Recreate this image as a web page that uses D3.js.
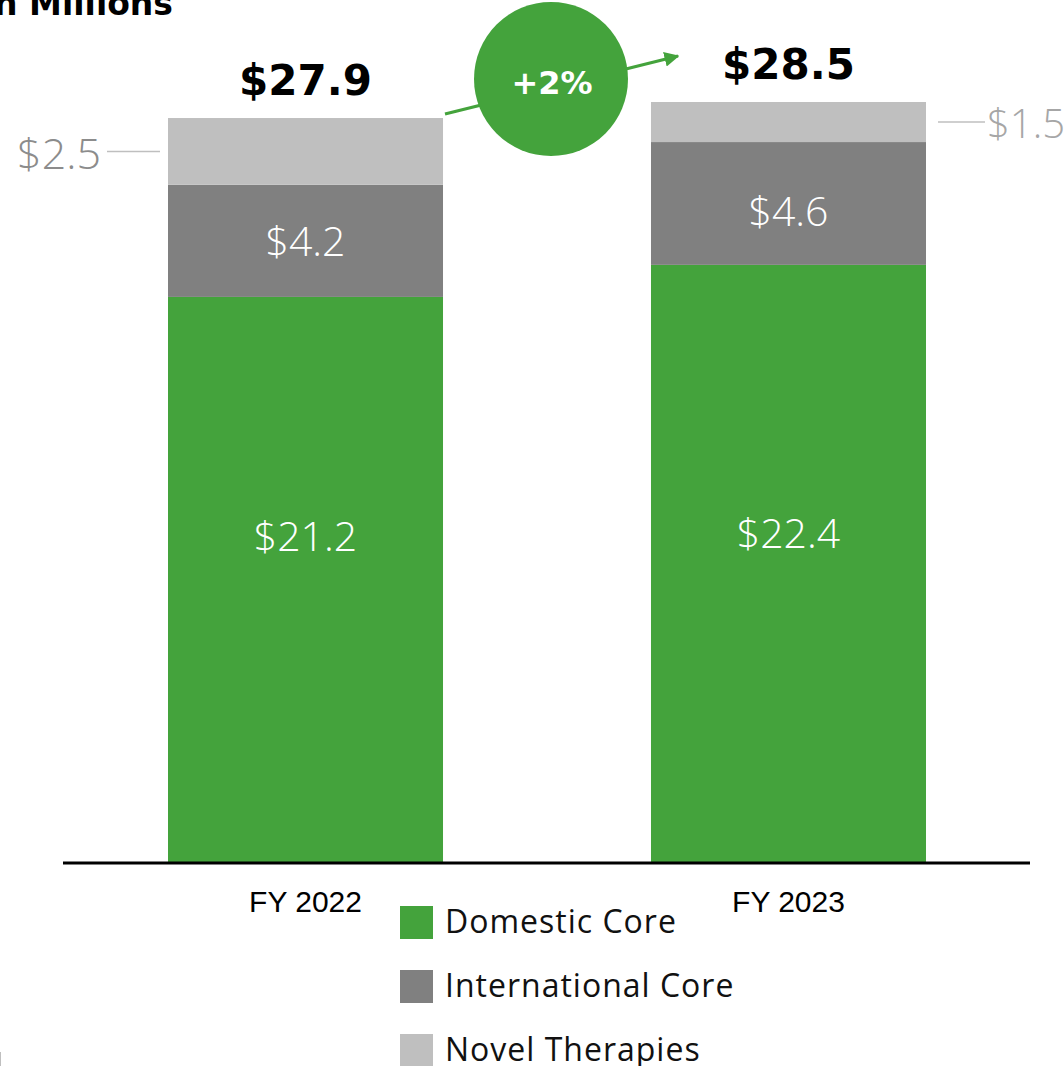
<!DOCTYPE html>
<html>
<head>
<meta charset="utf-8">
<script src="https://cdn.jsdelivr.net/npm/d3@7"></script>
<style>
  body { margin: 0; background: #fff; }
  svg { display: block; }
</style>
</head>
<body>
<div id="chart"></div>
<script>
let years = ['FY 2022', 'FY 2023']
let series = ['Domestic Core', 'International Core', 'Novel Therapies']
let domestic = [21.2, 22.4]
let international = [4.2, 4.6]
let novel = [2.5, 1.5]
let totals = [27.9, 28.5]
let growthLabel = '+2%'
let unitLabel = '$ in Millions'

let colors = ['#44a33c', '#808080', '#bfbfbf']
let valueFont = "'Open Sans', sans-serif"
let boldFont = "'DejaVu Sans', sans-serif"

let width = 1064
let height = 1066

let svg = d3
  .select('#chart')
  .append('svg')
  .attr('width', width)
  .attr('height', height)

let rows = years.map((y, i) => ({
  year: y,
  'Domestic Core': domestic[i],
  'International Core': international[i],
  'Novel Therapies': novel[i]
}))
let stacked = d3.stack().keys(series)(rows)

let xPositionScale = d3
  .scaleBand()
  .domain(years)
  .range([63, 1031])
  .paddingInner(0.4306)
  .paddingOuter(0.2174)

let yPositionScale = d3.scaleLinear().domain([0, 28.5]).range([863, 102])

// bars
svg
  .selectAll('.layer')
  .data(stacked)
  .enter()
  .append('g')
  .attr('class', 'layer')
  .attr('fill', (d, i) => colors[i])
  .selectAll('rect')
  .data(d => d)
  .enter()
  .append('rect')
  .attr('x', d => xPositionScale(d.data.year))
  .attr('width', xPositionScale.bandwidth())
  .attr('y', d => yPositionScale(d[1]))
  .attr('height', d => yPositionScale(d[0]) - yPositionScale(d[1]))

// white labels inside domestic and international segments
let labelShift = [[-44, -31], [0, 8]]
stacked.slice(0, 2).forEach((layer, li) => {
  svg
    .selectAll(null)
    .data(layer)
    .enter()
    .append('text')
    .attr('x', d => xPositionScale(d.data.year) + xPositionScale.bandwidth() / 2)
    .attr('y', (d, i) => (yPositionScale(d[0]) + yPositionScale(d[1])) / 2 + labelShift[li][i])
    .attr('dy', '0.36em')
    .attr('text-anchor', 'middle')
    .attr('fill', '#fff')
    .attr('font-family', valueFont)
    .attr('font-weight', 300)
    .attr('font-size', 41)
    .text(d => '$' + (d[1] - d[0]).toFixed(1))
})

// novel therapies callouts outside the bars
let novelLayer = stacked[2]
novelLayer.forEach((d, i) => {
  let yMid = (yPositionScale(d[0]) + yPositionScale(d[1])) / 2
  let left = i === 0
  let x0 = xPositionScale(d.data.year)
  let x1 = x0 + xPositionScale.bandwidth()
  let lineStart = left ? x0 - 8 : x1 + 12
  let lineEnd = left ? x0 - 61 : x1 + 59
  svg
    .append('line')
    .attr('x1', lineStart)
    .attr('x2', lineEnd)
    .attr('y1', yMid)
    .attr('y2', yMid)
    .attr('stroke', '#bfbfbf')
    .attr('stroke-width', 1.5)
  svg
    .append('text')
    .attr('x', left ? lineEnd - 6 : lineEnd + 2)
    .attr('y', yMid + 2)
    .attr('dy', '0.36em')
    .attr('text-anchor', left ? 'end' : 'start')
    .attr('fill', left ? '#8c8c8c' : '#a6a6a6')
    .attr('font-family', valueFont)
    .attr('font-weight', 300)
    .attr('font-size', left ? 43 : 40)
    .text('$' + novel[i].toFixed(1))
})

// totals above the bars
svg
  .selectAll('.total')
  .data(totals)
  .enter()
  .append('text')
  .attr('class', 'total')
  .attr('x', (d, i) => xPositionScale(years[i]) + xPositionScale.bandwidth() / 2)
  .attr('y', d => yPositionScale(d) - 23)
  .attr('text-anchor', 'middle')
  .attr('fill', '#000')
  .attr('font-family', boldFont)
  .attr('font-weight', 'bold')
  .attr('font-size', 42)
  .text(d => '$' + d.toFixed(1))

// growth arrow and bubble
svg
  .append('defs')
  .append('marker')
  .attr('id', 'arrow')
  .attr('viewBox', '0 0 10 10')
  .attr('refX', 9)
  .attr('refY', 5)
  .attr('markerWidth', 5)
  .attr('markerHeight', 5)
  .attr('orient', 'auto')
  .append('path')
  .attr('d', 'M0,0 L10,5 L0,10 Z')
  .attr('fill', colors[0])

let bar1Right = xPositionScale(years[0]) + xPositionScale.bandwidth()
svg
  .append('line')
  .attr('x1', bar1Right + 2)
  .attr('y1', yPositionScale(totals[0]) - 4)
  .attr('x2', xPositionScale(years[1]) + 27)
  .attr('y2', yPositionScale(totals[1]) - 46)
  .attr('stroke', colors[0])
  .attr('stroke-width', 3)
  .attr('marker-end', 'url(#arrow)')

svg
  .append('circle')
  .attr('cx', 551)
  .attr('cy', 79)
  .attr('r', 77)
  .attr('fill', colors[0])

svg
  .append('text')
  .attr('x', 552)
  .attr('y', 82)
  .attr('dy', '0.36em')
  .attr('text-anchor', 'middle')
  .attr('fill', '#fff')
  .attr('font-family', boldFont)
  .attr('font-weight', 'bold')
  .attr('font-size', 32)
  .text(growthLabel)

// baseline and axis labels
let xAxis = d3.axisBottom(xPositionScale).tickSize(0).tickPadding(28)
let axisG = svg
  .append('g')
  .attr('class', 'axis x-axis')
  .attr('transform', 'translate(0,' + yPositionScale(0) + ')')
  .call(xAxis)
axisG
  .select('.domain')
  .attr('stroke', '#000')
  .attr('stroke-width', 3)
  .attr('d', 'M63,0H1030')
axisG
  .selectAll('text')
  .attr('fill', '#000')
  .attr('font-family', "'Liberation Sans Narrow', 'Liberation Sans', sans-serif")
  .attr('font-size', 30)

// legend
let legend = svg
  .selectAll('.legend')
  .data(series)
  .enter()
  .append('g')
  .attr('class', 'legend')
  .attr('transform', (d, i) => 'translate(400,' + (906 + i * 64) + ')')
legend
  .append('rect')
  .attr('width', 33)
  .attr('height', 33)
  .attr('fill', (d, i) => colors[i])
legend
  .append('text')
  .attr('x', 45)
  .attr('y', 15)
  .attr('dy', '0.36em')
  .attr('fill', '#111')
  .attr('font-family', valueFont)
  .attr('font-size', 32)
  .attr('letter-spacing', 1)
  .text(d => d)

// unit title, cut off at the top left
svg
  .append('text')
  .attr('x', 173)
  .attr('y', 15)
  .attr('text-anchor', 'end')
  .attr('fill', '#000')
  .attr('font-family', boldFont)
  .attr('font-weight', 'bold')
  .attr('font-size', 33)
  .text(unitLabel)

// small edge mark at the bottom left
svg
  .append('line')
  .attr('x1', 0.5)
  .attr('x2', 0.5)
  .attr('y1', 1052)
  .attr('y2', 1066)
  .attr('stroke', '#bfbfbf')
  .attr('stroke-width', 1)
</script>
</body>
</html>
